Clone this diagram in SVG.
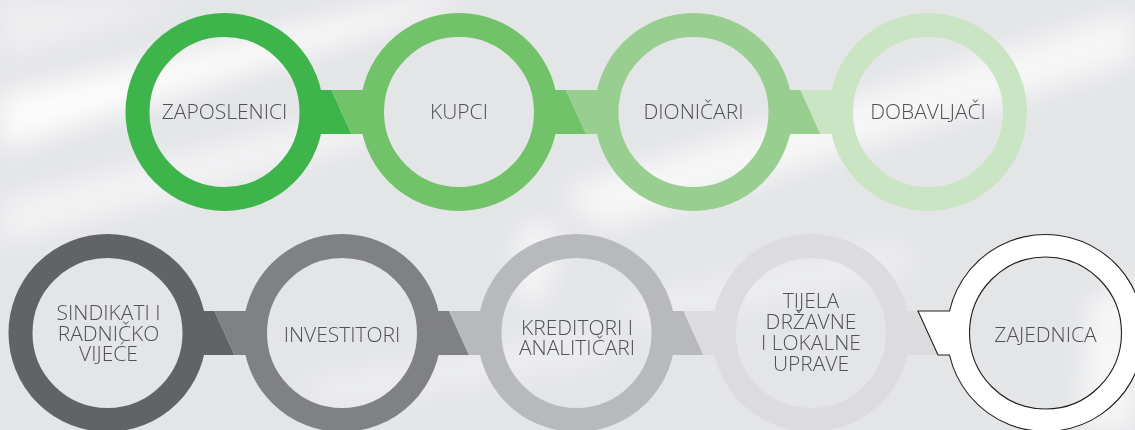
<svg xmlns="http://www.w3.org/2000/svg" width="1135" height="430" viewBox="0 0 1135 430">
  <defs>
    <filter id="blur" x="-20%" y="-50%" width="140%" height="200%">
      <feGaussianBlur stdDeviation="14"/>
    </filter>
  </defs>
  <style>
    .ring { fill: none; stroke-width: 24; }
    .lbl { font-family: "Open Sans", "Liberation Sans", sans-serif; font-weight: 300; font-size: 21px; fill: #505153; text-anchor: middle; }
    .g1 { fill: #3db54a; stroke: #3db54a; }
    .g2 { fill: #72c26a; stroke: #72c26a; }
    .g3 { fill: #98ce8f; stroke: #98ce8f; }
    .g4 { fill: #c9e5c3; stroke: #c9e5c3; }
    .k1 { fill: #626365; stroke: #626365; }
    .k2 { fill: #808184; stroke: #808184; }
    .k3 { fill: #b8b9bc; stroke: #b8b9bc; }
    .k4 { fill: #dcdcde; stroke: #dcdcde; }
    .conn polygon { stroke: none; }
    .ring.g1, .ring.g2, .ring.g3, .ring.g4, .ring.k1, .ring.k2, .ring.k3, .ring.k4 { fill: none; }
  </style>

  <!-- background -->
  <g id="background">
    <rect x="0" y="0" width="1135" height="430" fill="#e4e5e7"/>
    <g fill="#ffffff" filter="url(#blur)">
      <polygon points="0,95 420,0 470,0 0,150" opacity="0.9"/>
      <polygon points="0,200 360,110 380,140 0,245" opacity="0.55"/>
      <polygon points="560,190 1135,10 1135,60 600,230" opacity="0.7"/>
      <polygon points="520,225 560,225 545,300 515,300" opacity="0.7"/>
      <polygon points="620,300 900,240 920,270 640,330" opacity="0.35"/>
      <polygon points="1090,300 1135,280 1135,430 1080,430" opacity="0.7"/>
      <polygon points="0,0 200,0 0,60" opacity="0.4"/>
      <polygon points="300,380 600,330 620,360 320,410" opacity="0.35"/>
    </g>
  </g>

  <!-- connectors -->
  <g id="connectors" class="conn">
    <polygon class="g1" points="309.5,90 331.5,90 351.5,134 309.5,134"/>
    <polygon class="g2" points="331.5,90 374,90 374,134 351.5,134"/>
    <polygon class="g2" points="544,90 566,90 586,134 544,134"/>
    <polygon class="g3" points="566,90 608.5,90 608.5,134 586,134"/>
    <polygon class="g3" points="778.5,90 800.5,90 820.5,134 778.5,134"/>
    <polygon class="g4" points="800.5,90 843,90 843,134 820.5,134"/>
    <polygon class="k1" points="192.5,311 214.5,311 234.5,355 192.5,355"/>
    <polygon class="k2" points="214.5,311 257,311 257,355 234.5,355"/>
    <polygon class="k2" points="427,311 449,311 469,355 427,355"/>
    <polygon class="k3" points="449,311 491.5,311 491.5,355 469,355"/>
    <polygon class="k3" points="661.5,311 683.5,311 703.5,355 661.5,355"/>
    <polygon class="k4" points="683.5,311 726,311 726,355 703.5,355"/>
    <polygon class="k4" points="896,311 918,311 938,355 896,355"/>
  </g>

  <!-- top row nodes -->
  <g id="zaposlenici">
    <circle class="ring g1" cx="224.5" cy="112" r="87"/>
    <text class="lbl" x="224.5" y="118.5">ZAPOSLENICI</text>
  </g>
  <g id="kupci">
    <circle class="ring g2" cx="459" cy="112" r="87"/>
    <text class="lbl" x="459" y="118.5">KUPCI</text>
  </g>
  <g id="dionicari">
    <circle class="ring g3" cx="693.5" cy="112" r="87"/>
    <text class="lbl" x="693.5" y="118.5">DIONIČARI</text>
  </g>
  <g id="dobavljaci">
    <circle class="ring g4" cx="928" cy="112" r="87"/>
    <text class="lbl" x="928" y="118.5">DOBAVLJAČI</text>
  </g>

  <!-- bottom row nodes -->
  <g id="sindikati">
    <circle class="ring k1" cx="107.5" cy="333" r="87"/>
    <text class="lbl" x="108.5" y="320">SINDIKATI I</text>
    <text class="lbl" x="108.5" y="340.5">RADNIČKO</text>
    <text class="lbl" x="108.5" y="361">VIJEĆE</text>
  </g>
  <g id="investitori">
    <circle class="ring k2" cx="342" cy="333" r="87"/>
    <text class="lbl" x="342" y="341.5">INVESTITORI</text>
  </g>
  <g id="kreditori">
    <circle class="ring k3" cx="576.5" cy="333" r="87"/>
    <text class="lbl" x="577" y="335">KREDITORI I</text>
    <text class="lbl" x="577" y="355">ANALITIČARI</text>
  </g>
  <g id="tijela">
    <circle class="ring k4" cx="811" cy="333" r="87"/>
    <text class="lbl" x="811" y="308">TIJELA</text>
    <text class="lbl" x="811" y="329">DRŽAVNE</text>
    <text class="lbl" x="811" y="350">I LOKALNE</text>
    <text class="lbl" x="811" y="371">UPRAVE</text>
  </g>
  <g id="zajednica">
    <path d="M 949.5 311 L 918 311 L 938 355 L 949.5 355 A 98.5 98.5 0 1 0 949.5 311 Z M 969.5 333 A 76 76 0 1 0 1121.5 333 A 76 76 0 1 0 969.5 333 Z" fill="#ffffff" fill-rule="evenodd" stroke="#231f20" stroke-width="1.1"/>
    <text class="lbl" x="1045.5" y="342">ZAJEDNICA</text>
  </g>
</svg>
